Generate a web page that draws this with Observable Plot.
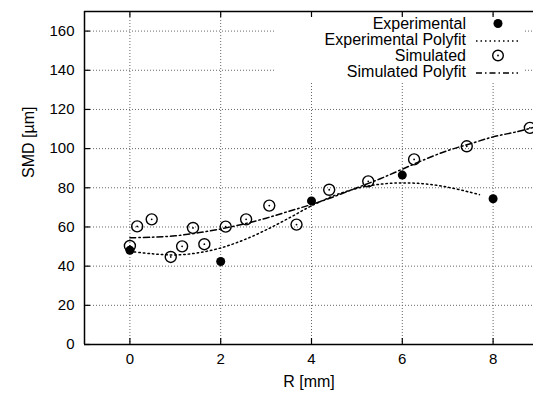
<!DOCTYPE html>
<html>
<head>
<meta charset="utf-8">
<script src="https://cdn.jsdelivr.net/npm/d3@7"></script>
<script src="https://cdn.jsdelivr.net/npm/@observablehq/plot@0.6"></script>
<style>
  html, body { margin: 0; padding: 0; background: #fff; }
  #chart svg { display: block; }
</style>
</head>
<body>
<div id="chart"></div>
<script>
// ---- data ----
const expR   = [0, 2, 4, 6, 8];
const expSMD = [48.1, 42.4, 73.3, 86.5, 74.4];

const simR   = [0, 0.16, 0.48, 0.9, 1.15, 1.39, 1.64, 2.11, 2.56, 3.07, 3.67, 4.39, 5.25, 6.26, 7.42, 8.81];
const simSMD = [50.3, 60.3, 63.9, 44.7, 50.1, 59.5, 51.2, 60.2, 63.9, 70.9, 61.2, 79.0, 83.3, 94.5, 101.2, 110.6];

const expFitR   = [0, 0.5, 1, 1.5, 2, 2.5, 3, 3.5, 4, 4.5, 5, 5.5, 6, 6.5, 7, 7.5, 7.7];
const expFitSMD = [47.5, 46.3, 45.7, 46.8, 49.3, 53.3, 58.5, 64.5, 70.8, 76.0, 79.7, 81.8, 82.5, 82.0, 80.3, 77.7, 76.5];

const simFitR   = [0, 0.5, 1, 1.5, 2, 2.5, 3, 3.5, 4, 4.5, 5, 5.5, 6, 6.5, 7, 7.5, 8, 8.5, 9];
const simFitSMD = [54.5, 54.8, 55.5, 57.0, 59.0, 61.5, 64.5, 68.0, 71.5, 75.5, 80.0, 84.5, 89.5, 94.5, 99.0, 102.5, 106.0, 108.5, 111.5];

const xTicks = [0, 2, 4, 6, 8];
const yTicks = [0, 20, 40, 60, 80, 100, 120, 140, 160];
const legendLabels = ["Experimental", "Experimental Polyfit", "Simulated", "Simulated Polyfit"];
const xLabel = "R [mm]";
const yLabel = "SMD [\u00b5m]";

// ---- tables ----
const exp = expR.map((r, i) => ({r, v: expSMD[i]}));
const sim = simR.map((r, i) => ({r, v: simSMD[i]}));
const expFit = expFitR.map((r, i) => ({r, v: expFitSMD[i]}));
const simFit = simFitR.map((r, i) => ({r, v: simFitSMD[i]}));

const W = 533, H = 396, mL = 84, mR = 0, mT = 11, mB = 52;
const FW = W - mL - mR, FH = H - mT - mB;
const font = "Liberation Sans, Arial, Helvetica, sans-serif";
const dotted = "1.5,3";
const dashdot = "6,3,1.5,3";

function legendMark(index, scales, values, dims) {
  const ns = "http://www.w3.org/2000/svg";
  const g = document.createElementNS(ns, "g");
  const top = dims.marginTop;
  const bg = document.createElementNS(ns, "rect");
  bg.setAttribute("x", 275); bg.setAttribute("y", top + 4);
  bg.setAttribute("width", 250); bg.setAttribute("height", 66);
  bg.setAttribute("fill", "#fff");
  g.appendChild(bg);
  const textX = 466, symX = 498, lx1 = 476, lx2 = 518;
  legendLabels.forEach((lab, i) => {
    const y = top + 12.5 + i * 16;
    const t = document.createElementNS(ns, "text");
    t.setAttribute("x", textX); t.setAttribute("y", y);
    t.setAttribute("text-anchor", "end");
    t.setAttribute("dy", "0.35em");
    t.setAttribute("font-family", font);
    t.setAttribute("font-size", 16);
    t.textContent = lab;
    g.appendChild(t);
    if (i === 0) {
      const c = document.createElementNS(ns, "circle");
      c.setAttribute("cx", symX); c.setAttribute("cy", y); c.setAttribute("r", 4.5);
      c.setAttribute("fill", "#000");
      g.appendChild(c);
    } else if (i === 2) {
      const c = document.createElementNS(ns, "circle");
      c.setAttribute("cx", symX); c.setAttribute("cy", y); c.setAttribute("r", 5.3);
      c.setAttribute("fill", "none"); c.setAttribute("stroke", "#000"); c.setAttribute("stroke-width", 1.4);
      g.appendChild(c);
      const c2 = document.createElementNS(ns, "circle");
      c2.setAttribute("cx", symX); c2.setAttribute("cy", y); c2.setAttribute("r", 0.9);
      c2.setAttribute("fill", "#000");
      g.appendChild(c2);
    } else {
      const l = document.createElementNS(ns, "line");
      l.setAttribute("x1", lx1); l.setAttribute("x2", lx2);
      l.setAttribute("y1", y + 1.5); l.setAttribute("y2", y + 1.5);
      l.setAttribute("stroke", "#000"); l.setAttribute("stroke-width", 1.4);
      l.setAttribute("stroke-dasharray", i === 1 ? dotted : dashdot);
      g.appendChild(l);
    }
  });
  return g;
}

const chart = Plot.plot({
  width: W, height: H,
  marginLeft: mL, marginRight: mR, marginTop: mT, marginBottom: mB,
  style: {fontFamily: font, fontSize: "15px", background: "#fff", overflow: "hidden"},
  x: {domain: [-1, 8.89], axis: null},
  y: {domain: [0, 170], axis: null},
  marks: [
    // grid
    Plot.ruleX(xTicks, {x: d => d, stroke: "#666", strokeWidth: 1, strokeDasharray: "1,2"}),
    Plot.ruleY(yTicks, {y: d => d, stroke: "#666", strokeWidth: 1, strokeDasharray: "1,2"}),
    legendMark,
    // inward ticks
    Plot.ruleX(xTicks, {x: d => d, insetTop: FH - 6, stroke: "#000", strokeWidth: 1.2}),
    Plot.ruleX(xTicks, {x: d => d, insetBottom: FH - 6, stroke: "#000", strokeWidth: 1.2}),
    Plot.ruleY(yTicks, {y: d => d, insetRight: FW - 6, stroke: "#000", strokeWidth: 1.2}),
    // frame (no right edge visible)
    Plot.ruleY([0, 170], {stroke: "#000", strokeWidth: 1.5}),
    Plot.ruleX([-1], {stroke: "#000", strokeWidth: 1.5}),
    // tick labels
    Plot.text(xTicks, {x: d => d, frameAnchor: "bottom", dy: 19, text: d => String(d), fontSize: 15, fill: "#000"}),
    Plot.text(yTicks, {y: d => d, frameAnchor: "left", dx: -10, textAnchor: "end", text: d => String(d), fontSize: 15, fill: "#000"}),
    // axis labels
    Plot.text([xLabel], {frameAnchor: "bottom", dy: 42, text: d => d, fontSize: 16, fill: "#000"}),
    Plot.text([yLabel], {frameAnchor: "left", dx: -56, rotate: -90, text: d => d, fontSize: 16, fill: "#000"}),
    // fits
    Plot.line(expFit, {x: "r", y: "v", curve: "catmull-rom", stroke: "#000", strokeWidth: 1.5, strokeDasharray: dotted, clip: true}),
    Plot.line(simFit, {x: "r", y: "v", curve: "catmull-rom", stroke: "#000", strokeWidth: 1.5, strokeDasharray: dashdot, clip: true}),
    // points
    Plot.dot(exp, {x: "r", y: "v", r: 4.5, fill: "#000"}),
    Plot.dot(sim, {x: "r", y: "v", r: 5.5, stroke: "#000", strokeWidth: 1.4, fill: "none"}),
    Plot.dot(sim, {x: "r", y: "v", r: 0.9, fill: "#000"})
  ]
});
document.getElementById("chart").appendChild(chart);
</script>
</body>
</html>
